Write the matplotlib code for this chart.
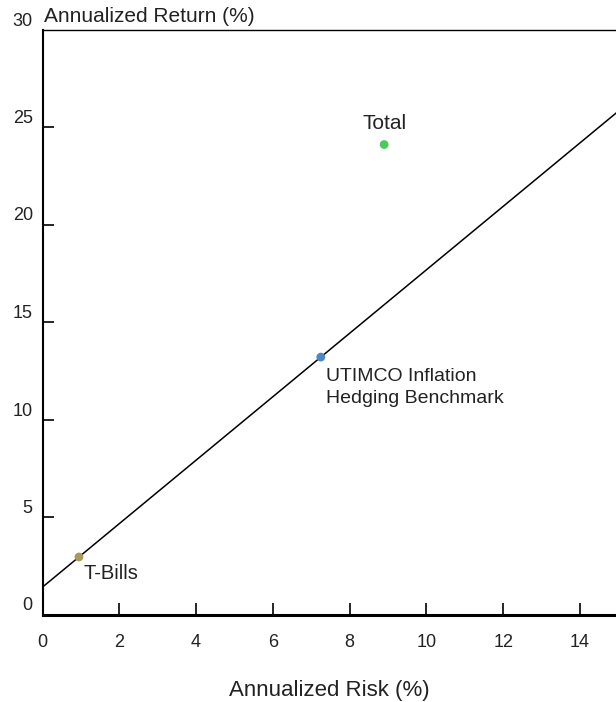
import numpy as np
import matplotlib
matplotlib.use("Agg")
import matplotlib.pyplot as plt
from matplotlib import font_manager

# data (annualized risk %, annualized return %)
names = ["Total", "UTIMCO Inflation\nHedging Benchmark", "T-Bills"]
risk = [8.9, 7.25, 0.95]
ret = [24.1, 13.2, 2.95]
colors = ["#4cc85c", "#4f86c6", "#a89a5a"]

x_ticks = [0, 2, 4, 6, 8, 10, 12, 14]
y_ticks = [0, 5, 10, 15, 20, 25, 30]

# pick a narrow font if we have one
installed = {f.name for f in font_manager.fontManager.ttflist}
fam = "Liberation Sans Narrow" if "Liberation Sans Narrow" in installed else "Liberation Sans"
plt.rcParams["font.family"] = [fam, "DejaVu Sans"]
text_col = "#222222"

fig = plt.figure(figsize=(6.16, 7.02), dpi=100)
ax = fig.add_axes([42.5 / 616, 87.5 / 702, 1 - 42.5 / 616, 585 / 702])
ax.set_xlim(0, 14.94)
ax.set_ylim(0, 30)

# capital market line through T-Bills and the benchmark
slope = (ret[1] - ret[2]) / (risk[1] - risk[2])
icpt = ret[2] - slope * risk[2]
xs = np.array([0, 14.94])
ax.plot(xs, icpt + slope * xs, color="black", lw=1.1, zorder=2)

ax.scatter(risk, ret, s=40, c=colors, zorder=3, linewidths=0)

# point labels
ax.annotate(names[0], (risk[0], ret[0]), xytext=(0, 8), textcoords="offset points",
            ha="center", va="bottom", fontsize=15, color=text_col)
ax.annotate(names[1], (risk[1], ret[1]), xytext=(4, -8), textcoords="offset points",
            ha="left", va="top", fontsize=14, color=text_col, linespacing=1.4)
ax.annotate(names[2], (risk[2], ret[2]), xytext=(3, -5), textcoords="offset points",
            ha="left", va="top", fontsize=14.5, color=text_col)

ax.spines["right"].set_visible(False)
ax.spines["top"].set_linewidth(1.0)
ax.spines["left"].set_linewidth(1.5)
ax.spines["bottom"].set_linewidth(2.2)

ax.set_xticks(x_ticks)
ax.set_yticks(y_ticks)
ax.set_xticklabels([str(t) for t in x_ticks], fontsize=13, color=text_col)
ax.set_yticklabels([str(t) for t in y_ticks], fontsize=13, color=text_col, va="bottom")
ax.tick_params(axis="x", direction="in", length=9, width=1.2, pad=14)
ax.tick_params(axis="y", direction="in", length=8, width=1.2, pad=7)
# no tick marks at the corners
ax.xaxis.get_major_ticks()[0].tick1line.set_visible(False)
ax.yaxis.get_major_ticks()[0].tick1line.set_visible(False)
ax.yaxis.get_major_ticks()[-1].tick1line.set_visible(False)

ax.set_xlabel("Annualized Risk (%)", fontsize=16, color=text_col, labelpad=21)
fig.text(44 / 616, 1 - 16 / 702, "Annualized Return (%)", fontsize=15,
         color=text_col, ha="left", va="center")

fig.savefig("out.png", dpi=100)
